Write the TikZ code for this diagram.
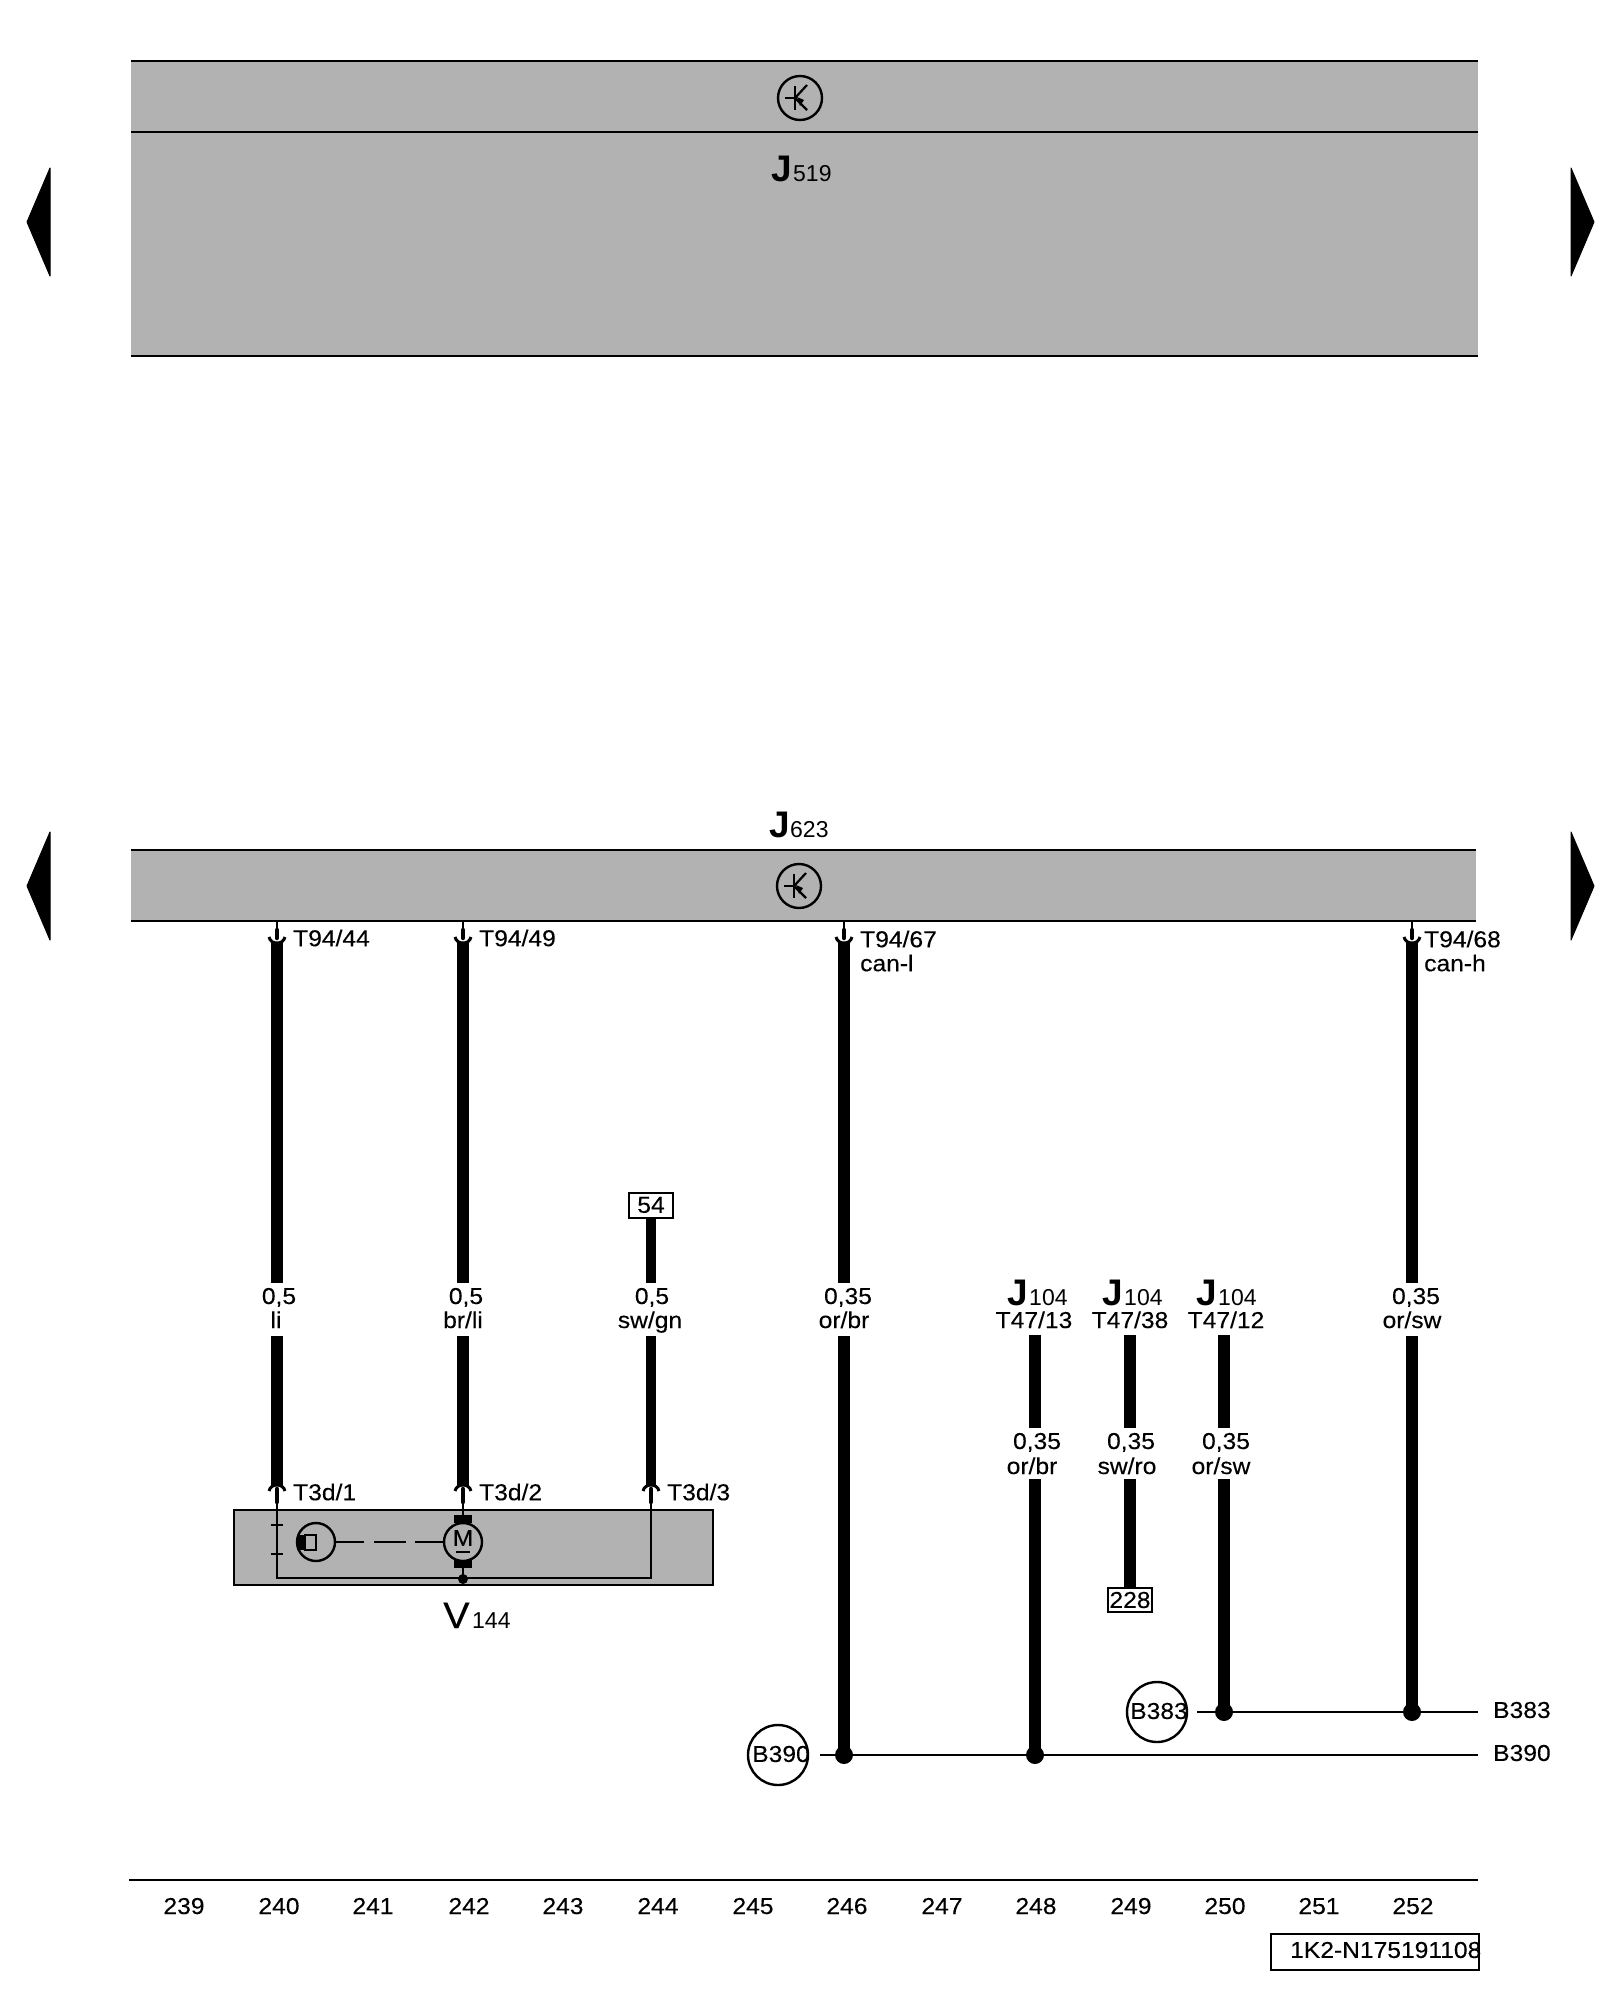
\documentclass[tikz,border=0pt]{standalone}
\usepackage{fontspec}
\setmainfont[FakeStretch=1.07,FakeBold=0.25]{Liberation Sans}
\newfontfamily\plainf{Liberation Sans}
\usetikzlibrary{calc}
\definecolor{bandgray}{HTML}{B2B2B2}
\tikzset{
  band/.style={fill=bandgray,draw=none},
  rule/.style={line width=2.2pt,draw=black},
  thick wire/.style={line width=11.5pt,draw=black},
  thin wire/.style={line width=2.4pt,draw=black},
  lbl/.style={font=\fontsize{23}{23}\selectfont,inner sep=0pt,text=black},
  big/.style={font=\plainf\bfseries\fontsize{37}{37}\selectfont,inner sep=0pt,text=black,anchor=base west},
  sub/.style={font=\plainf\fontsize{23}{23}\selectfont,inner sep=0pt,text=black,anchor=base west},
  ring/.style={circle,draw=black,line width=2.4pt,minimum size=#1,inner sep=0pt},
  tag/.style={draw=black,line width=2pt,inner sep=0pt,fill=white,font=\fontsize{23}{23}\selectfont},
  tri/.style={fill=black,draw=black,line width=1pt,line join=round},
  dot/.style={circle,fill=black,inner sep=0pt,minimum size=#1},
}
\newcommand{\transistor}[2]{%
  \draw[line width=2.4pt] (#1-15,#2) -- (#1-5,#2);
  \draw[line width=2.4pt] (#1-5,#2-12) -- (#1-5,#2+12);
  \draw[line width=2.2pt] (#1-5,#2) -- (#1+7,#2-13);
  \draw[line width=2.2pt] (#1-5,#2) -- (#1+7,#2+12);
  \fill (#1-3,#2-1) -- (#1+4,#2+2) -- (#1,#2+8) -- cycle;
}
\newcommand{\cupdown}[2]{% x, y of band edge
  \draw[line width=2pt] (#1,#2) -- (#1,#2+10);
  \draw[line width=4.5pt,line cap=round] (#1,#2+9) -- (#1,#2+17);
  \draw[line width=3pt] (#1-8,#2+16) .. controls (#1-7,#2+20) and (#1-4,#2+22) .. (#1,#2+22)
     .. controls (#1+4,#2+22) and (#1+7,#2+20) .. (#1+8,#2+16);
}
\newcommand{\cupup}[2]{% x, y of box edge
  \draw[line width=4.5pt,line cap=round] (#1,#2-20) -- (#1,#2-7);
  \draw[line width=3pt] (#1-8,#2-18) .. controls (#1-7,#2-22) and (#1-4,#2-24) .. (#1,#2-24)
     .. controls (#1+4,#2-24) and (#1+7,#2-22) .. (#1+8,#2-18);
}
\begin{document}
\begin{tikzpicture}[x=1pt,y=-1pt]
\useasboundingbox (0,0) rectangle (1600,2000);
% top control unit
\fill[band] (131,61) rectangle (1478,356);
\coordinate (tl1) at (131,61); \coordinate (tr1) at (1478,61);
\coordinate (tl2) at (131,132); \coordinate (tr2) at (1478,132);
\coordinate (tl3) at (131,356); \coordinate (tr3) at (1478,356);
\draw[rule] (tl1) -- (tr1); \draw[rule] (tl2) -- (tr2); \draw[rule] (tl3) -- (tr3);
\node[ring=44pt] (tr519) at (800,98) {};
\transistor{800}{98}
\node[big] (j519) at (771,181) {J};
\node[sub] (j519s) at (793,181) {519};
% arrows
\fill[tri] (50,168) -- (27,222) -- (50,276) -- cycle;
\fill[tri] (1571,168) -- (1594,222) -- (1571,276) -- cycle;
\fill[tri] (50,832) -- (27,886) -- (50,940) -- cycle;
\fill[tri] (1571,832) -- (1594,886) -- (1571,940) -- cycle;
% J623
\fill[band] (131,849) rectangle (1476,921);
\coordinate (bl1) at (131,850); \coordinate (br1) at (1476,850);
\coordinate (bl2) at (131,921); \coordinate (br2) at (1476,921);
\draw[rule] (bl1) -- (br1); \draw[rule] (bl2) -- (br2);
\node[ring=44pt] (tr623) at (799,886) {};
\transistor{799}{886}
\node[big] (j623) at (769,837) {J};
\node[sub] (j623s) at (790,837) {623};
% V144 box
\node[draw=black,line width=2.2pt,fill=bandgray,minimum width=479pt,minimum height=75pt,inner sep=0pt,anchor=north west] (v144) at (233,1509) {};
\coordinate (ia) at (277,1494); \coordinate (ib) at (277,1578); \coordinate (ic) at (651,1578); \coordinate (id) at (651,1494);
\draw[thin wire,line join=miter] (ia) -- (ib) -- (ic) -- (id);
\draw[line width=2pt] (271,1525) -- (283,1525) (271,1554) -- (283,1554);
\node[ring=38pt] (sens) at (316,1542) {};
\fill (297,1535) rectangle (306,1550);
\draw[line width=2pt] (305,1535) rectangle (316,1550);
\node[ring=38pt] (motor) at (463,1542) {};
\node[lbl] (mlet) at (463,1538) {M};
\draw[line width=2pt] (456,1552) -- (470,1552);
\fill (454,1515) rectangle (472,1523);
\fill (454,1560) rectangle (472,1568);
\coordinate (mt) at (463,1494);
\coordinate (mb) at (463,1578);
\draw[line width=2.4pt] (mt) -- (motor.north);
\draw[line width=2.4pt] (motor.south) -- (mb);
\node[dot=10pt] (mdot) at (463,1579) {};
\draw[line width=2.4pt,dash pattern=on 28pt off 10pt on 32pt off 9pt on 29pt off 0pt] (sens.east) -- (motor.west);
\node[lbl,font=\fontsize{37}{37}\selectfont,anchor=base west] (vname) at (443,1628) {V};
\node[sub] (vsub) at (472,1628) {144};
% pins
\foreach \x in {277,463,844,1412} {\cupdown{\x}{921}}
\foreach \x in {277,463,651} {\cupup{\x}{1509}}
% wire label nodes
\node[lbl] at (293,938) [anchor=west] (p1) {T94/44};
\node[lbl] at (479,938) [anchor=west] (p2) {T94/49};
\node[lbl] at (860,939) [anchor=west] (p3) {T94/67};
\node[lbl] at (860,963) [anchor=west] (p3b) {can-l};
\node[lbl] at (1424,939) [anchor=west] (p4) {T94/68};
\node[lbl] at (1424,963) [anchor=west] (p4b) {can-h};
\node[lbl] at (293,1492) [anchor=west] (q1) {T3d/1};
\node[lbl] at (479,1492) [anchor=west] (q2) {T3d/2};
\node[lbl] at (667,1492) [anchor=west] (q3) {T3d/3};
% sizes
\newcommand{\wlab}[5]{% name, x1, x2, text1, text2
  \node[lbl,anchor=base] (#1a) at (#2,1304) {#4};
  \node[lbl,anchor=base] (#1b) at (#3,1328) {#5};
}
\wlab{w1}{279}{276}{0,5}{li}
\wlab{w2}{466}{463}{0,5}{br/li}
\wlab{w3}{652}{650}{0,5}{sw/gn}
\wlab{w4}{848}{844}{0,35}{or/br}
\wlab{w5}{1416}{1412}{0,35}{or/sw}
\newcommand{\wlabb}[5]{%
  \node[lbl,anchor=base] (#1a) at (#2,1449) {#4};
  \node[lbl,anchor=base] (#1b) at (#3,1474) {#5};
}
\wlabb{x1}{1037}{1032}{0,35}{or/br}
\wlabb{x2}{1131}{1127}{0,35}{sw/ro}
\wlabb{x3}{1226}{1221}{0,35}{or/sw}
% J104 labels
\foreach \n/\jx/\tx/\t in {a/1007/1034/{T47/13},b/1102/1130/{T47/38},c/1196/1226/{T47/12}}{
  \node[big] (jh\n) at (\jx,1305) {J};
  \node[sub] (js\n) at (\jx+22,1305) {104};
  \node[lbl,anchor=base] (jt\n) at (\tx,1328) {\t};
}
% tags
\node[tag,minimum width=44pt,minimum height=25pt] (t54) at (651,1205) {54};
\node[tag,minimum width=44pt,minimum height=24pt] (t228) at (1130,1600) {228};
% wires
\coordinate (a1) at (277,943); \coordinate (a2) at (277,1283); \coordinate (a3) at (277,1336); \coordinate (a4) at (277,1485);
\coordinate (b1) at (463,943); \coordinate (b2) at (463,1283); \coordinate (b3) at (463,1336); \coordinate (b4) at (463,1485);
\coordinate (c2) at (651,1283); \coordinate (c3) at (651,1336); \coordinate (c4) at (651,1485);
\coordinate (d1) at (844,943); \coordinate (d2) at (844,1283); \coordinate (d3) at (844,1336);
\coordinate (e1) at (1412,943); \coordinate (e2) at (1412,1283); \coordinate (e3) at (1412,1336);
\coordinate (f1) at (1035,1335); \coordinate (f2) at (1035,1428); \coordinate (f3) at (1035,1479);
\coordinate (g1) at (1130,1335); \coordinate (g2) at (1130,1428); \coordinate (g3) at (1130,1479);
\coordinate (h1) at (1224,1335); \coordinate (h2) at (1224,1428); \coordinate (h3) at (1224,1479);
% buses
\node[dot=18pt] (n390a) at (844,1755) {};
\node[dot=18pt] (n390b) at (1035,1755) {};
\node[dot=18pt] (n383a) at (1224,1712) {};
\node[dot=18pt] (n383b) at (1412,1712) {};
\draw[thick wire] (a1)--(a2) (a3)--(a4);
\draw[thick wire] (b1)--(b2) (b3)--(b4);
\draw[thick wire,line width=10pt] (t54.south)--(c2) (c3)--(c4);
\draw[thick wire] (d1)--(d2) (d3)--(n390a.center);
\draw[thick wire] (e1)--(e2) (e3)--(n383b.center);
\draw[thick wire] (f1)--(f2) (f3)--(n390b.center);
\draw[thick wire] (g1)--(g2) (g3)--(t228.north);
\draw[thick wire] (h1)--(h2) (h3)--(n383a.center);
\node[ring=60pt] (b390c) at (778,1755) {};
\node[lbl] at (781,1754) (b390t) {B390};
\node[ring=60pt] (b383c) at (1157,1712) {};
\node[lbl] at (1159,1711) (b383t) {B383};
\node[lbl,anchor=west] (b383r) at (1493,1710) {B383};
\node[lbl,anchor=west] (b390r) at (1493,1753) {B390};
\coordinate (bs1) at (820,1755); \coordinate (bs2) at (1478,1755);
\coordinate (bt1) at (1197,1712); \coordinate (bt2) at (1478,1712);
\draw[thin wire] (bs1) -- (bs2);
\draw[thin wire] (bt1) -- (bt2);
% ruler
\coordinate (r1) at (129,1880); \coordinate (r2) at (1478,1880);
\draw[rule] (r1) -- (r2);
\foreach \x/\t in {184/239,279/240,373/241,469/242,563/243,658/244,753/245,847/246,942/247,1036/248,1131/249,1225/250,1319/251,1413/252}
  \node[lbl,anchor=base] (n\t) at (\x,1914) {\t};
\node[draw=black,line width=2pt,minimum width=208pt,minimum height=36pt,inner sep=0pt,anchor=north west] (code) at (1270,1933) {};
\node[lbl,anchor=west] (codet) at (1290,1950) {1K2-N175191108};
\end{tikzpicture}
\end{document}
